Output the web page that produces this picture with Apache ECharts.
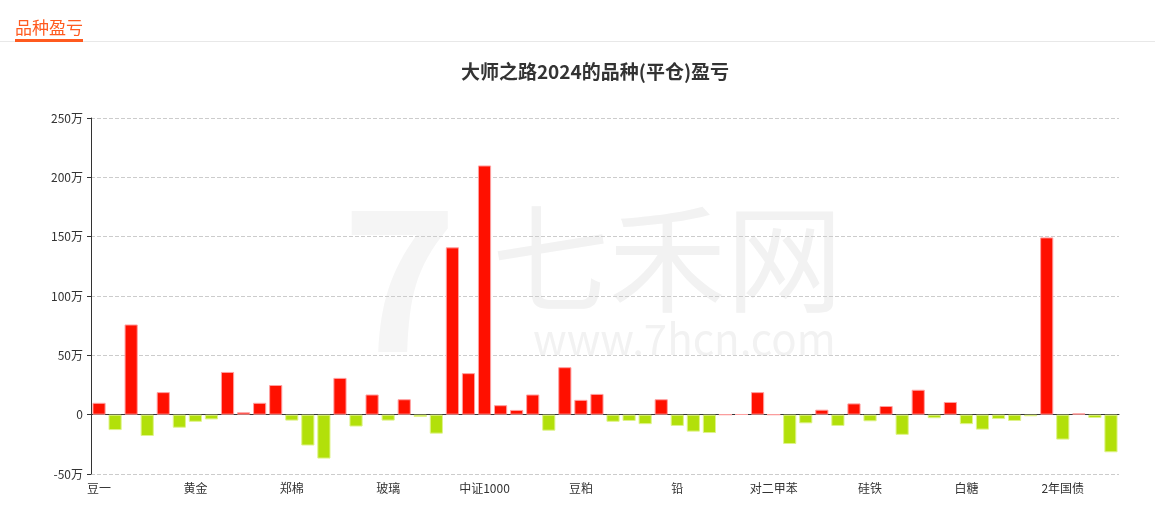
<!DOCTYPE html>
<html>
<head>
<meta charset="utf-8">
<script src="https://cdn.jsdelivr.net/npm/echarts@6/dist/echarts.min.js"></script>
<style>
html,body{margin:0;padding:0;background:#fff;}
#c{width:1155px;height:507px;}
</style>
</head>
<body>
<div id="c"></div>
<script>
const categories = ['豆一','豆二','豆油','棕榈油','玉米','淀粉','黄金','白银','沪铜','沪铝','沪锌','沪镍','郑棉','菜粕','菜油','苹果','红枣','纯碱','玻璃','尿素','甲醇','沪深300','上证50','中证500','中证1000','螺纹钢','热卷','铁矿石','焦炭','焦煤','豆粕','鸡蛋','生猪','沪锡','不锈钢','氧化铝','铅','原油','燃油','沥青','PVC','塑料','对二甲苯','PTA','短纤','乙二醇','聚丙烯','苯乙烯','硅铁','锰硅','工业硅','碳酸锂','橡胶','纸浆','白糖','花生','棉纱','液化气','集运指数','30年国债','2年国债','5年国债','10年国债','烧碱'];
// 盈亏 (万元)
const profit = [10,-13,76,-18,19,-11,-6,-4,36,2,10,25,-5,-26,-37,31,-10,17,-5,13,-2,-16,141,35,210,8,4,17,-13.5,40,12.5,17.5,-6,-5.3,-8,13,-9.5,-14.3,-15.5,0,0.3,19,0,-24.7,-7.3,4.2,-9.5,9.5,-5.6,7.3,-17,21,-3,10.7,-8,-12.6,-3.7,-5.3,-1.4,149.4,-21,1.1,-2.8,-31.7];
const yTicks = {min: -50, max: 250, interval: 50};

const FONT = '"Noto Sans CJK SC", "Noto Sans", sans-serif';
const barData = profit.map(v => ({
  value: v,
  itemStyle: v >= 0
    ? {color: '#ff1000', borderColor: '#ffa0a0', borderWidth: 1}
    : {color: '#b2e00a', borderColor: '#dff38a', borderWidth: 1}
}));

const chart = echarts.init(document.getElementById('c'));
chart.setOption({
  animation: false,
  textStyle: {fontFamily: FONT},
  title: {
    text: '大师之路2024的品种(平仓)盈亏',
    left: 590, textAlign: 'center', top: 57,
    textStyle: {fontSize: 19, fontWeight: 'bold', color: '#333', fontFamily: FONT}
  },
  graphic: [
    {type: 'text', left: 15, top: 19, style: {text: '品种盈亏', fill: '#ff5a1f', fontSize: 17, fontFamily: FONT}},
    {type: 'rect', shape: {x: 0, y: 41, width: 1155, height: 1}, style: {fill: '#e8e8e8'}},
    {type: 'rect', shape: {x: 15, y: 39, width: 68, height: 3}, style: {fill: '#ff5a1f'}},
    {type: 'text', z: -1, left: 492, top: 200, style: {text: '七禾网', fill: '#f2f2f2', fontSize: 117, fontFamily: FONT}},
    {type: 'text', z: -1, left: 533, top: 318, style: {text: 'www.7hcn.com', fill: '#f2f2f2', fontSize: 42, fontFamily: FONT}},
    {type: 'text', z: -1, left: 342, top: 180, style: {text: '7', fill: '#f5f5f5', fontSize: 195, fontWeight: 'bold', fontFamily: FONT}}
  ],
  grid: {left: 91, right: 36, top: 118, bottom: 33},
  xAxis: [
    {
      type: 'category', data: categories,
      axisLine: {onZero: true, lineStyle: {color: '#333'}},
      axisTick: {alignWithLabel: true, interval: 5, length: 5, lineStyle: {color: '#333'}},
      axisLabel: {show: false}
    },
    {
      type: 'category', data: categories, position: 'bottom',
      axisLine: {show: false, onZero: false},
      axisTick: {show: false},
      axisLabel: {interval: 5, color: '#333', fontSize: 12, margin: 8}
    }
  ],
  yAxis: {
    type: 'value', min: yTicks.min, max: yTicks.max, interval: yTicks.interval,
    axisLine: {show: true, lineStyle: {color: '#333'}},
    axisTick: {show: true, length: 4},
    axisLabel: {color: '#333', fontSize: 12, formatter: v => v === 0 ? '0' : v + '万'},
    splitLine: {lineStyle: {type: 'dashed', color: '#ccc'}}
  },
  series: [{
    type: 'bar', xAxisIndex: 0,
    data: barData,
    barCategoryGap: '18%'
  }]
});
</script>
</body>
</html>
